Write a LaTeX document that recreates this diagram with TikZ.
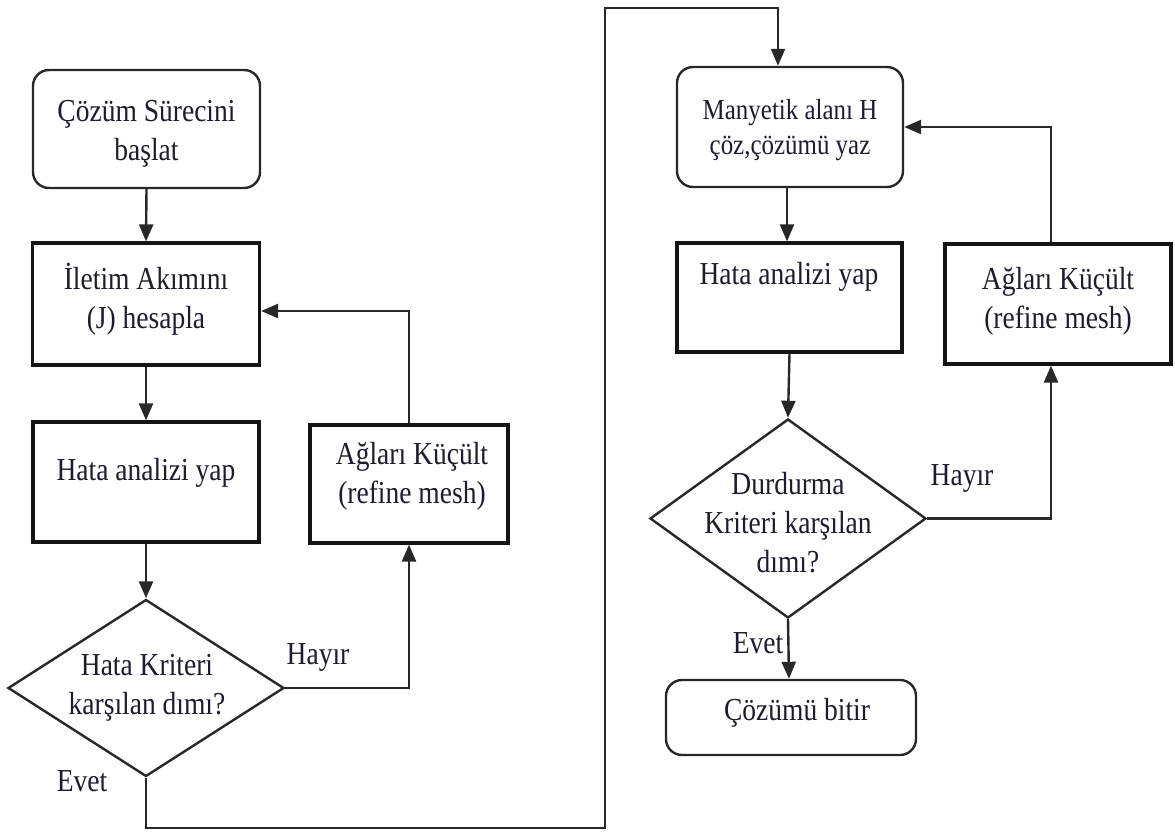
\documentclass[tikz,border=0pt]{standalone}
\usepackage{fontspec}
\setmainfont{Liberation Serif}[FakeStretch=0.86]
\usetikzlibrary{arrows.meta,shapes.geometric}
\definecolor{ink}{RGB}{28,28,46}
\definecolor{edge}{RGB}{40,40,40}
\begin{document}
\begin{tikzpicture}[x=1pt,y=-1pt,
  sqbox/.style={rectangle,draw=black!92,line width=3.2pt,inner sep=0pt},
  rbox/.style={rectangle,rounded corners=16pt,draw=edge,line width=2.4pt,inner sep=0pt},
  dbox/.style={diamond,draw=edge,line width=2.4pt,inner sep=0pt},
  txt/.style={align=center,inner sep=0pt,text=ink,font=\fontsize{32}{39}\selectfont},
  smalltxt/.style={txt,font=\fontsize{29}{35}\selectfont},
  lbl/.style={inner sep=0pt,text=ink,font=\fontsize{32}{39}\selectfont},
  con/.style={draw=edge,line width=2.4pt},
  arr/.style={con,-{Triangle[length=17pt,width=14pt]}}]
\useasboundingbox (0,0) rectangle (1175,834);

% left column: current density and first refinement loop
\node[rbox,minimum width=227pt,minimum height=118pt] (start) at (146.5,129) {};
\node[txt] (tstart) at (146.5,134) {Çözüm Sürecini\\başlat};
\node[sqbox,minimum width=227pt,minimum height=122pt] (calcJ) at (146,304) {};
\node[txt] (tcalcJ) at (146,299) {İletim Akımını\\(J) hesapla};
\node[sqbox,minimum width=226pt,minimum height=120pt] (err1) at (146,482) {};
\node[txt] (terr1) at (146,473) {Hata analizi yap};
\node[dbox,minimum width=276pt,minimum height=177pt] (dia1) at (146,688) {};
\node[txt] (tdia1) at (147,688) {Hata Kriteri\\karşılan dımı?};
\node[sqbox,minimum width=198pt,minimum height=118pt] (ref1) at (409,484) {};
\node[txt] (tref1) at (412,476) {Ağları Küçült\\(refine mesh)};
\node[lbl] (no1) at (318,657) {Hayır};
\node[lbl] (yes1) at (82,781) {Evet};

% right column: magnetic field and second refinement loop
\node[rbox,minimum width=226pt,minimum height=120pt] (mag) at (790,127) {};
\node[smalltxt] (tmag) at (790,130) {Manyetik alanı H\\çöz,çözümü yaz};
\node[sqbox,minimum width=225pt,minimum height=109pt] (err2) at (789.5,297.5) {};
\node[txt] (terr2) at (789,277) {Hata analizi yap};
\node[dbox,minimum width=276pt,minimum height=199pt] (dia2) at (788,518.5) {};
\node[txt] (tdia2) at (788,523) {Durdurma\\Kriteri karşılan\\dımı?};
\node[sqbox,minimum width=226pt,minimum height=120pt] (ref2) at (1058,304) {};
\node[txt] (tref2) at (1058,301) {Ağları Küçült\\(refine mesh)};
\node[rbox,minimum width=250pt,minimum height=75pt] (fin) at (791,717.5) {};
\node[txt] (tfin) at (797,713) {Çözümü bitir};
\node[lbl] (no2) at (962,478) {Hayır};
\node[lbl] (yes2) at (758,643) {Evet};

% route from the first decision to the second column
\coordinate (b1) at (146,828);
\coordinate (b2) at (605,828);
\coordinate (b3) at (605,8);

% connectors
\draw[arr] (start.south) -- (calcJ.north);
\draw[arr] (calcJ.south) -- (err1.north);
\draw[arr] (err1.south) -- (dia1.north);
\draw[arr] (dia1.east) -| (ref1.south);
\draw[arr] (ref1.north) |- ([yshift=-7pt]calcJ.east);
\draw[arr] (dia1.south) -- (b1) -- (b2) -- (b3) -| ([xshift=-12pt]mag.north);
\draw[arr] ([xshift=-3pt]mag.south) -- ([xshift=-2.5pt]err2.north);
\draw[arr] (err2.south) -- (dia2.north);
\draw[arr] (dia2.east) -| ([xshift=-7pt]ref2.south);
\draw[arr] ([xshift=-7pt]ref2.north) |- (mag.east);
\draw[arr] (dia2.south) -- ([xshift=-2pt]fin.north);
\end{tikzpicture}
\end{document}
